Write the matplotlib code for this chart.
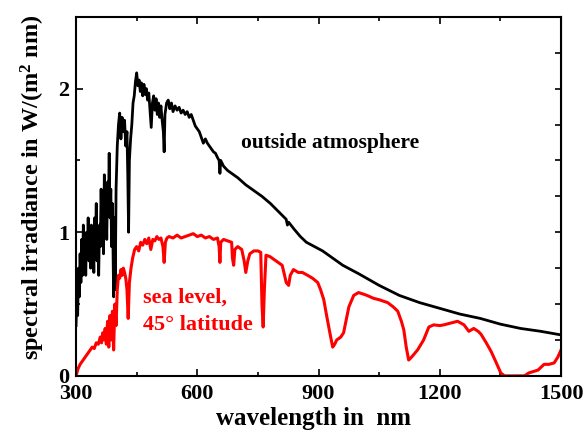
import matplotlib
matplotlib.use('Agg')
import matplotlib.pyplot as plt
import numpy as np

plt.rcParams['font.family'] = 'Liberation Serif'
plt.rcParams['font.weight'] = 'bold'
plt.rcParams['mathtext.fontset'] = 'custom'
plt.rcParams['mathtext.rm'] = 'Liberation Serif:bold'
plt.rcParams['mathtext.default'] = 'rm'

# outside atmosphere (black)
wl_top = [300, 302, 304, 306, 308, 310, 312, 314, 316, 318, 320, 322, 324, 326, 328,
          330, 332, 334, 336, 338, 340, 342, 344, 346, 348, 350, 352, 354, 356, 358,
          360, 362, 364, 366, 368, 370, 372, 374, 376, 378, 380, 382, 384, 386, 388,
          390, 392, 393, 395, 397, 399, 402, 405, 408, 411, 414, 417, 420, 423, 426,
          428, 430, 432, 435, 438, 441, 444, 447, 450, 453, 456, 459, 462, 465, 468,
          471, 474, 477, 480, 483, 486, 489, 492, 495, 498, 501, 504, 507, 510, 513,
          516, 518, 520, 524, 528, 532, 536, 540, 545, 550, 555, 560, 565, 570, 575,
          580, 585, 590, 595, 600, 605, 610, 615, 620, 625, 630, 635, 640, 645, 650,
          654, 656, 658, 665, 675, 690, 700, 720, 740, 760, 781, 806, 820, 823, 826,
          840, 855, 870, 890, 910, 930, 960, 1000, 1050, 1100, 1150, 1200, 1250, 1300,
          1350, 1400, 1450, 1500]
irr_top = [0.35, 0.55, 0.42, 0.75, 0.55, 0.85, 0.65, 0.95, 0.70, 1.05, 0.80, 0.95, 0.70, 1.00, 0.85,
           1.10, 0.80, 1.00, 0.75, 1.05, 0.85, 0.95, 0.72, 1.10, 0.90, 1.20, 0.80, 1.00, 0.70, 1.05,
           0.90, 1.30, 1.00, 1.20, 0.85, 1.40, 1.05, 1.25, 0.95, 1.35, 1.15, 1.55, 1.10, 1.30, 0.90,
           1.20, 0.75, 0.55, 1.10, 0.60, 1.30, 1.60, 1.75, 1.83, 1.65, 1.80, 1.70, 1.78, 1.60, 1.70,
           1.40, 1.00, 1.50, 1.65, 1.75, 1.90, 1.95, 2.05, 2.11, 2.02, 2.06, 1.98, 2.04, 1.95, 2.03,
           1.96, 2.00, 1.92, 1.97, 1.85, 1.73, 1.90, 1.95, 1.85, 1.93, 1.82, 1.90, 1.80, 1.88, 1.78,
           1.70, 1.56, 1.82, 1.90, 1.92, 1.86, 1.90, 1.84, 1.88, 1.85, 1.87, 1.83, 1.85, 1.82, 1.84,
           1.80, 1.82, 1.78, 1.74, 1.72, 1.70, 1.66, 1.62, 1.65, 1.62, 1.60, 1.58, 1.56, 1.55, 1.52,
           1.50, 1.41, 1.50, 1.46, 1.43, 1.40, 1.38, 1.33, 1.29, 1.25, 1.20, 1.13, 1.09, 1.05, 1.07,
           1.02, 0.97, 0.93, 0.90, 0.87, 0.83, 0.77, 0.71, 0.63, 0.56, 0.51, 0.47, 0.43, 0.40,
           0.36, 0.33, 0.31, 0.285]

# sea level, 45 deg latitude (red)
wl_sea = [300, 305, 310, 315, 320, 325, 330, 335, 340, 345, 350, 355, 360, 363, 366,
          369, 372, 375, 378, 381, 384, 387, 390, 393, 396, 399, 402, 405, 408, 411,
          414, 417, 420, 423, 426, 429, 432, 436, 440, 445, 450, 455, 460, 465, 470,
          475, 480, 485, 490, 495, 500, 505, 510, 515, 518, 521, 525, 530, 540, 550,
          560, 570, 580, 590, 600, 610, 620, 630, 640, 650, 654, 656, 658, 665, 675,
          685, 687, 690, 693, 700, 710, 716, 720, 725, 730, 740, 750, 757, 760, 763,
          766, 770, 780, 790, 800, 810, 816, 820, 826, 830, 838, 850, 860, 873, 885,
          898, 905, 913, 920, 928, 935, 940, 945, 955, 962, 967, 975, 987, 999, 1010,
          1020, 1036, 1050, 1071, 1085, 1096, 1105, 1111, 1117, 1123, 1130, 1145, 1160,
          1173, 1185, 1200, 1210, 1230, 1244, 1260, 1272, 1284, 1295, 1302, 1315, 1327,
          1340, 1351, 1360, 1410, 1420, 1443, 1458, 1470, 1483, 1492, 1500]
irr_sea = [0.00, 0.05, 0.08, 0.10, 0.12, 0.14, 0.16, 0.18, 0.20, 0.19, 0.23, 0.22, 0.27, 0.23, 0.30,
           0.25, 0.33, 0.22, 0.38, 0.20, 0.42, 0.25, 0.45, 0.18, 0.50, 0.35, 0.60, 0.70, 0.68, 0.74,
           0.70, 0.75, 0.72, 0.68, 0.60, 0.40, 0.65, 0.75, 0.82, 0.88, 0.90, 0.87, 0.93, 0.91, 0.95,
           0.92, 0.96, 0.88, 0.95, 0.94, 0.97, 0.95, 0.96, 0.90, 0.79, 0.93, 0.96, 0.97, 0.96, 0.98,
           0.96, 0.97, 0.98, 0.99, 0.97, 0.98, 0.96, 0.97, 0.95, 0.96, 0.90, 0.79, 0.93, 0.95, 0.94,
           0.93, 0.82, 0.77, 0.88, 0.90, 0.88, 0.80, 0.72, 0.80, 0.85, 0.87, 0.87, 0.86, 0.50, 0.34,
           0.60, 0.84, 0.83, 0.81, 0.79, 0.77, 0.70, 0.65, 0.63, 0.70, 0.74, 0.72, 0.72, 0.70, 0.68,
           0.65, 0.60, 0.53, 0.42, 0.30, 0.20, 0.22, 0.25, 0.27, 0.30, 0.37, 0.48, 0.56, 0.58, 0.57,
           0.56, 0.54, 0.53, 0.51, 0.48, 0.45, 0.38, 0.32, 0.20, 0.11, 0.13, 0.18, 0.25,
           0.34, 0.355, 0.35, 0.355, 0.37, 0.38, 0.355, 0.31, 0.33, 0.31, 0.29, 0.23, 0.17,
           0.09, 0.02, 0.00, 0.00, 0.02, 0.04, 0.08, 0.08, 0.09, 0.13, 0.18]

x_ticks = [300, 600, 900, 1200, 1500]
y_ticks = [0, 1, 2]

fig = plt.figure(figsize=(5.85, 4.32), dpi=100)
ax = fig.add_axes([0.130, 0.130, 0.829, 0.831])

ax.plot(wl_top, irr_top, color='black', lw=2.0)
ax.plot(wl_sea, irr_sea, color='#ff0000', lw=2.2)

ax.set_xlim(300, 1500)
ax.set_ylim(0, 2.5)
ax.set_xticks(x_ticks)
ax.set_xticks([450, 750, 1050, 1350], minor=True)
ax.set_yticks(y_ticks)
ax.set_yticks([0.5, 1.5, 2.5], minor=True)
ax.tick_params(which='both', direction='in', top=True, labelsize=16, width=1.2)
ax.tick_params(which='major', length=5)
ax.tick_params(which='minor', length=3)
ax.tick_params(axis='x', pad=6)
ax.tick_params(axis='y', pad=5)
for s in ax.spines.values():
    s.set_linewidth(1.5)

sec = ax.secondary_yaxis('right')
sec.set_yticks(np.arange(0, 2.51, 0.25))
sec.tick_params(direction='in', length=4, width=1.2, labelright=False)

ax.set_xlabel('wavelength in  nm', fontsize=18, fontweight='bold')
ax.xaxis.set_label_coords(0.49, -0.088)
ax.set_ylabel('spectral irradiance in W/(m$^2$ nm)', fontsize=17.5, fontweight='bold')
ax.yaxis.set_label_coords(-0.06, 0.525)

ax.text(928, 1.62, 'outside atmosphere', fontsize=15.5, fontweight='bold',
        ha='center', va='center', color='black')
ax.text(466, 0.45, 'sea level,\n45\u00b0 latitude', fontsize=16, fontweight='bold',
        ha='left', va='center', color='#ff0000', linespacing=1.55)

fig.savefig('out.png', dpi=100)
